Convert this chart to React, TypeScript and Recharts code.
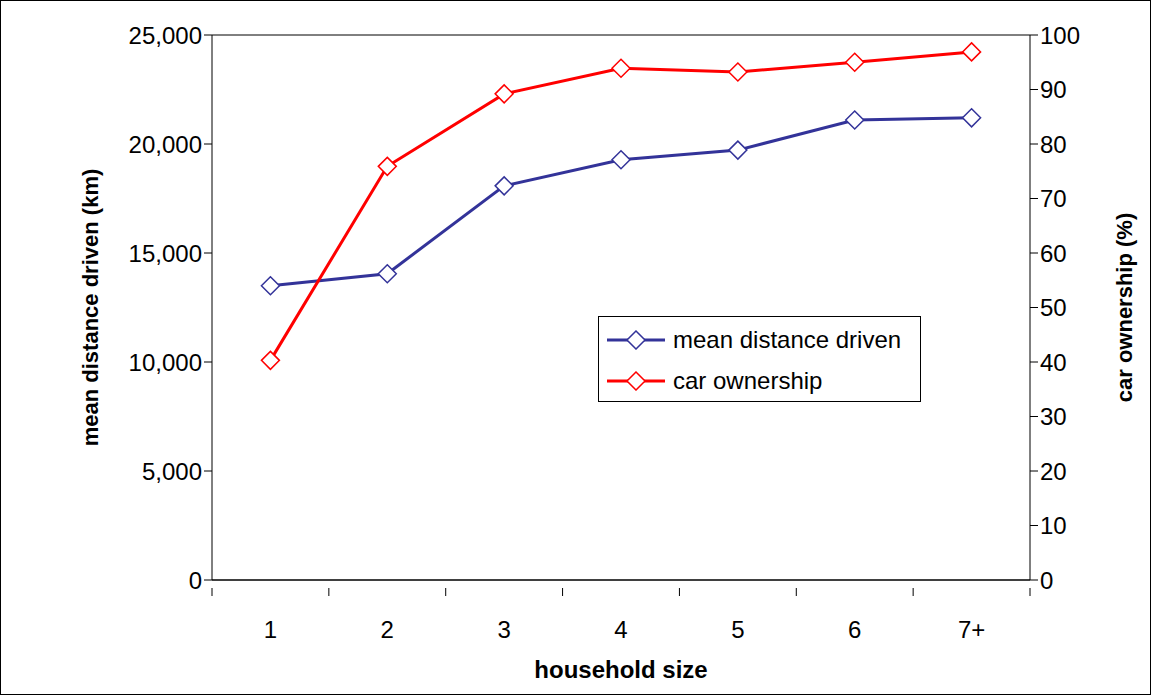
import React from "react";
import { LineChart, Line, XAxis, YAxis, CartesianGrid } from "recharts";

const sizes = ["1", "2", "3", "4", "5", "6", "7+"];
const distance = [13500, 14050, 18080, 19280, 19720, 21100, 21200];
const ownership = [40.3, 75.9, 89.2, 93.9, 93.2, 95.0, 96.9];
const leftTicks = [0, 5000, 10000, 15000, 20000, 25000];
const rightTicks = [0, 10, 20, 30, 40, 50, 60, 70, 80, 90, 100];

const data = sizes.map((s, i) => ({ size: s, distance: distance[i], ownership: ownership[i] }));

const BLUE = "#333399";
const RED = "#ff0000";
const FONT = "Liberation Sans, Arial, sans-serif";
const FS = 24;
const BW = 818 / 7;

const Diamond = (color: string) => (p: any) => {
  const { cx, cy } = p;
  if (cx == null || cy == null) return <g key={p.index} />;
  const r = 9;
  return (
    <polygon
      key={p.index}
      points={`${cx},${cy - r} ${cx + r},${cy} ${cx},${cy + r} ${cx - r},${cy}`}
      fill="#fff"
      stroke={color}
      strokeWidth={1.5}
    />
  );
};

const XTick = (p: any) => {
  const { x, y, payload, index } = p;
  return (
    <g>
      <line x1={x - BW / 2} x2={x - BW / 2} y1={y} y2={y + 8} stroke="#000" />
      {index === sizes.length - 1 && <line x1={x + BW / 2} x2={x + BW / 2} y1={y} y2={y + 8} stroke="#000" />}
      <text x={x} y={y + 50} textAnchor="middle" fontSize={FS} fill="#000">{payload.value}</text>
    </g>
  );
};

const LegendBox = () => (
  <div style={{ position: "absolute", left: 598, top: 316, width: 323, height: 86, border: "1px solid #000", background: "#fff", fontSize: FS, fontFamily: FONT, boxSizing: "border-box", padding: "2px 6px" }}>
    {[["mean distance driven", BLUE], ["car ownership", RED]].map(([label, c]) => (
      <div key={label} style={{ display: "flex", alignItems: "center", height: 41 }}>
        <svg width={62} height={20}>
          <line x1={2} x2={60} y1={10} y2={10} stroke={c} strokeWidth={3} />
          <polygon points="31,1 40,10 31,19 22,10" fill="#fff" stroke={c} strokeWidth={1.5} />
        </svg>
        <span style={{ marginLeft: 6 }}>{label}</span>
      </div>
    ))}
  </div>
);

export default function App() {
  return (
    <div style={{ position: "absolute", left: 0, top: 0, width: 1152, height: 696, background: "#fff", fontFamily: FONT }}>
      <div style={{ position: "absolute", left: 0, top: 0, width: 1149, height: 693, border: "1px solid #000" }} />
      <LineChart width={1152} height={696} data={data} margin={{ top: 35, right: 2, left: 2, bottom: 0 }}>
        <CartesianGrid vertical={false} horizontal stroke="#000" strokeWidth={1} />
        <XAxis
          dataKey="size"
          stroke="#000"
          tickLine={false}
          tick={<XTick />}
          interval={0}
          height={116}
          padding={{ left: BW / 2, right: BW / 2 }}
          label={{ value: "household size", position: "insideBottom", offset: 18, fontSize: FS, fontWeight: "bold", fill: "#000" }}
        />
        <YAxis
          yAxisId="l"
          domain={[0, 25000]}
          ticks={leftTicks}
          stroke="#000"
          tickSize={8}
          width={210}
          tick={{ fontSize: FS, fill: "#000" }}
          tickFormatter={(v) => v.toLocaleString("en-US")}
          label={{ value: "mean distance driven (km)", angle: -90, position: "insideLeft", offset: 88, style: { textAnchor: "middle" }, fontSize: 22, fontWeight: "bold", fill: "#000" }}
        />
        <YAxis
          yAxisId="r"
          orientation="right"
          domain={[0, 100]}
          ticks={rightTicks}
          stroke="#000"
          tickSize={8}
          width={120}
          tick={{ fontSize: FS, fill: "#000" }}
          label={{ value: "car ownership (%)", angle: -90, position: "insideRight", offset: 26, style: { textAnchor: "middle" }, fontSize: 22, fontWeight: "bold", fill: "#000" }}
        />
        <Line yAxisId="l" dataKey="distance" stroke={BLUE} strokeWidth={3} dot={Diamond(BLUE)} isAnimationActive={false} />
        <Line yAxisId="r" dataKey="ownership" stroke={RED} strokeWidth={3} dot={Diamond(RED)} isAnimationActive={false} />
      </LineChart>
      <LegendBox />
    </div>
  );
}
